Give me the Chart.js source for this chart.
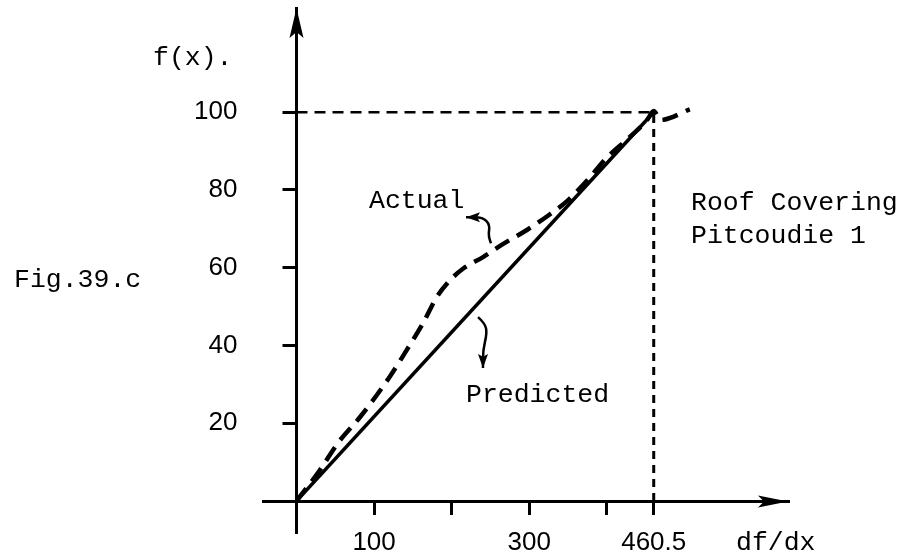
<!DOCTYPE html>
<html>
<head>
<meta charset="utf-8">
<script src="https://cdn.jsdelivr.net/npm/chart.js@4.4.1/dist/chart.umd.min.js"></script>
<style>
  html, body { margin: 0; padding: 0; background: #fff; }
  #wrap { width: 909px; height: 557px; }
</style>
</head>
<body>
<div id="wrap"><canvas id="chart" width="909" height="557"></canvas></div>
<script>
// values
const actualX = [0, 30, 53, 82, 120, 142, 163, 181, 198, 215, 241, 267, 297, 325, 348, 374, 400, 430, 452, 460.5, 469, 507];
const actualY = [0, 7.9, 14.8, 21.6, 31.9, 38.8, 45.7, 52.5, 56.8, 59.8, 62.8, 66.2, 69.7, 73.5, 77, 82.3, 88.3, 93.7, 98, 100.3, 98, 100.7];
const predictedX = [0, 460.5];
const predictedY = [0, 100];
const refTopX = [0, 460.5];
const refTopY = [100, 100];
const refSideX = [460.5, 460.5];
const refSideY = [0, 100];

const xTicks = [100, 200, 300, 400, 460.5];
const xTickLabels = ['100', '', '300', '', '460.5'];
const yTicks = [20, 40, 60, 80, 100];

// curly pointer arrows next to the labels (data units)
const actualPointerX = [250.7, 246.9, 249.5, 240.4, 218.5];
const actualPointerY = [66.3, 68.1, 71.0, 73.0, 73.0];
const predictedPointerX = [234, 243, 245.6, 240.4, 240.4];
const predictedPointerY = [47.3, 45.7, 43.2, 38.8, 34.2];

const toPoints = (xs, ys) => xs.map((x, i) => ({ x: x, y: ys[i] }));

const MONO = '"Liberation Mono", "DejaVu Sans Mono", monospace';
const SANS = '"Liberation Sans", Arial, sans-serif';

// same rounding chart.js uses for its border lines
const align = (p, w) => Math.round(p - w / 2) + w / 2;

const drawHead = (ctx, tipX, tipY, ang, len, half) => {
  ctx.save();
  ctx.translate(tipX, tipY);
  ctx.rotate(ang);
  ctx.beginPath();
  ctx.moveTo(0, 0);
  ctx.lineTo(-len, -half);
  ctx.lineTo(-len * 0.8, 0);
  ctx.lineTo(-len, half);
  ctx.closePath();
  ctx.fill();
  ctx.restore();
};

const extras = {
  id: 'extras',
  afterDraw(chart) {
    const ctx = chart.ctx;
    const xs = chart.scales.x;
    const ys = chart.scales.y;
    const area = chart.chartArea;
    const ox = align(ys.right, 3);
    const oy = align(xs.top, 3);
    ctx.save();
    ctx.fillStyle = '#000';
    ctx.strokeStyle = '#000';

    // axes cross each other a little past the origin
    ctx.lineWidth = 3;
    ctx.beginPath();
    ctx.moveTo(262, oy);
    ctx.lineTo(ox, oy);
    ctx.moveTo(ox, oy);
    ctx.lineTo(ox, 534);
    ctx.stroke();

    // axis arrow heads
    drawHead(ctx, ox, area.top, -Math.PI / 2, 30, 7);
    drawHead(ctx, area.right, oy, 0, 30, 6);

    // pointer squiggles
    const pointer = (px, py) => {
      const pts = px.map((v, i) => [xs.getPixelForValue(v), ys.getPixelForValue(py[i])]);
      ctx.lineWidth = 2.5;
      ctx.beginPath();
      ctx.moveTo(pts[0][0], pts[0][1]);
      for (let i = 1; i < pts.length - 1; i++) {
        const mx = (pts[i][0] + pts[i + 1][0]) / 2;
        const my = (pts[i][1] + pts[i + 1][1]) / 2;
        ctx.quadraticCurveTo(pts[i][0], pts[i][1], mx, my);
      }
      const last = pts[pts.length - 1];
      const prev = pts[pts.length - 2];
      ctx.lineTo(last[0], last[1]);
      ctx.stroke();
      drawHead(ctx, last[0], last[1], Math.atan2(last[1] - prev[1], last[0] - prev[0]), 14, 5);
    };
    pointer(actualPointerX, actualPointerY);
    pointer(predictedPointerX, predictedPointerY);

    // texts
    ctx.textAlign = 'left';
    ctx.textBaseline = 'alphabetic';
    ctx.font = '26.5px ' + MONO;
    ctx.fillText('f(x).', 153, 65);
    ctx.fillText('Fig.39.c', 14, 287);
    ctx.fillText('Actual', 369, 208);
    ctx.fillText('Predicted', 466, 402);
    ctx.fillText('Roof Covering', 691, 210);
    ctx.fillText('Pitcoudie 1', 691, 243);
    ctx.fillText('df/dx', 736, 550);
    ctx.restore();
  }
};

new Chart(document.getElementById('chart').getContext('2d'), {
  type: 'scatter',
  data: {
    datasets: [
      {
        label: 'Actual',
        data: toPoints(actualX, actualY),
        showLine: true,
        borderColor: '#000',
        borderWidth: 4.5,
        borderDash: [16, 9],
        cubicInterpolationMode: 'monotone',
        pointRadius: 0,
        fill: false,
      },
      {
        label: 'Predicted',
        data: toPoints(predictedX, predictedY),
        showLine: true,
        borderColor: '#000',
        borderWidth: 3.5,
        pointRadius: 0,
        fill: false,
      },
      {
        label: 'ref top',
        data: toPoints(refTopX, refTopY),
        showLine: true,
        borderColor: '#000',
        borderWidth: 2.5,
        borderDash: [11, 7],
        pointRadius: 0,
        fill: false,
      },
      {
        label: 'ref side',
        data: toPoints(refSideX, refSideY),
        showLine: true,
        borderColor: '#000',
        borderWidth: 3,
        borderDash: [8, 6],
        pointRadius: 0,
        fill: false,
      },
    ],
  },
  options: {
    responsive: false,
    animation: false,
    devicePixelRatio: 1,
    layout: { padding: { left: 0, right: 121, top: 8, bottom: 0 } },
    plugins: {
      legend: { display: false },
      tooltip: { enabled: false },
    },
    scales: {
      x: {
        type: 'linear',
        position: 'bottom',
        min: 0,
        max: 633.6,
        afterBuildTicks: (axis) => { axis.ticks = xTicks.map(v => ({ value: v })); },
        afterFit: (scale) => { scale.height = 56; scale.paddingLeft = 0; scale.paddingRight = 0; },
        ticks: {
          color: '#000',
          font: { family: SANS, size: 26 },
          padding: 12,
          maxRotation: 0,
          autoSkip: false,
          callback: (value, index) => xTickLabels[index],
        },
        grid: { drawOnChartArea: false, drawTicks: true, tickLength: 14, color: '#000', lineWidth: 3 },
        border: { display: true, color: '#000', width: 3 },
      },
      y: {
        type: 'linear',
        position: 'left',
        min: 0,
        max: 126.8,
        afterBuildTicks: (axis) => { axis.ticks = yTicks.map(v => ({ value: v })); },
        afterFit: (scale) => { scale.width = 296.5; scale.paddingTop = 0; scale.paddingBottom = 0; },
        ticks: {
          color: '#000',
          font: { family: SANS, size: 26 },
          padding: 45,
          autoSkip: false,
          callback: (value) => String(value),
        },
        grid: { drawOnChartArea: false, drawTicks: true, tickLength: 14, color: '#000', lineWidth: 3 },
        border: { display: true, color: '#000', width: 3 },
      },
    },
  },
  plugins: [extras],
});
</script>
</body>
</html>
